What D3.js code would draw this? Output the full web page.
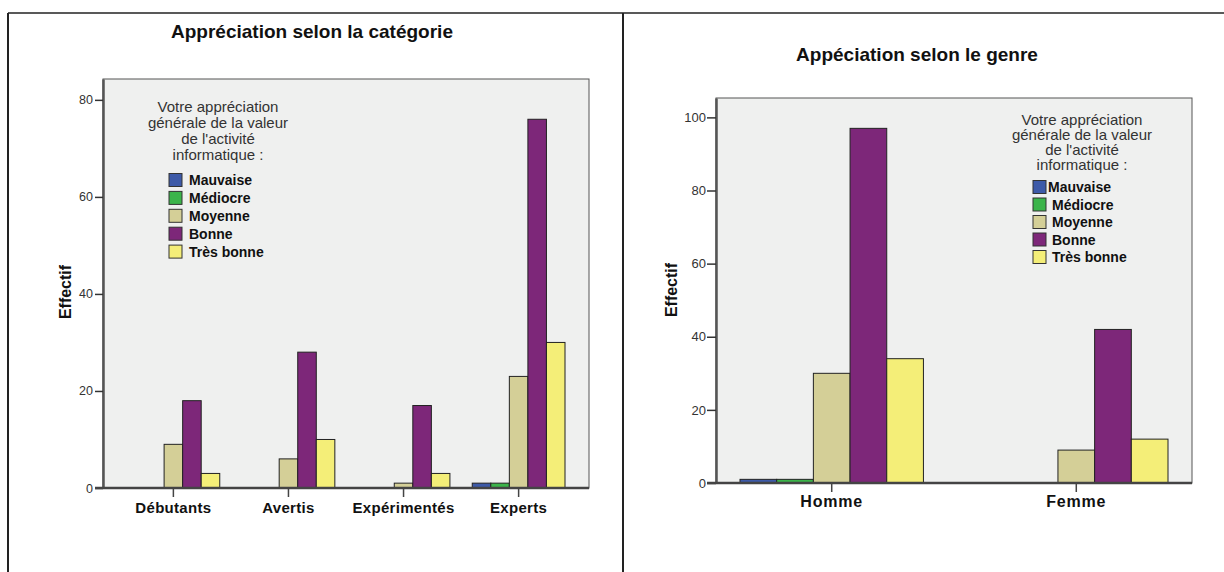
<!DOCTYPE html>
<html><head><meta charset="utf-8">
<script src="https://cdn.jsdelivr.net/npm/d3@7"></script>
<style>
body{margin:0;background:#fff}
svg{display:block}
text{font-family:"Liberation Sans",Arial,sans-serif}
</style>
</head><body>
<svg id="c" width="1224" height="572"></svg>
<script>
// ---- data ----
const seriesNames = ["Mauvaise", "Médiocre", "Moyenne", "Bonne", "Très bonne"];
const seriesColors = ["#3d5aa8", "#3bb44a", "#d4cf97", "#7d2779", "#f4ee78"];
const legendTitleLines = ["Votre appréciation", "générale de la valeur", "de l'activité", "informatique :"];

const catTitle = "Appréciation selon la catégorie";
const catCategories = ["Débutants", "Avertis", "Expérimentés", "Experts"];
const catMauvaise   = [0, 0, 0, 1];
const catMediocre   = [0, 0, 0, 1];
const catMoyenne    = [9, 6, 1, 23];
const catBonne      = [18, 28, 17, 76];
const catTresBonne  = [3, 10, 3, 30];
const catTicks      = [0, 20, 40, 60, 80];

const genreTitle = "Appéciation selon le genre";
const genreCategories = ["Homme", "Femme"];
const genreMauvaise   = [1, 0];
const genreMediocre   = [1, 0];
const genreMoyenne    = [30, 9];
const genreBonne      = [97, 42];
const genreTresBonne  = [34, 12];
const genreTicks      = [0, 20, 40, 60, 80, 100];

const yLabel = "Effectif";

const svg = d3.select("#c");

// outer frame
svg.append("line").attr("x1", 8).attr("x2", 1224).attr("y1", 13).attr("y2", 13).attr("stroke", "#222").attr("stroke-width", 1.5);
svg.append("line").attr("x1", 8).attr("x2", 8).attr("y1", 13).attr("y2", 572).attr("stroke", "#222").attr("stroke-width", 2);
svg.append("line").attr("x1", 623).attr("x2", 623).attr("y1", 13).attr("y2", 572).attr("stroke", "#222").attr("stroke-width", 2);

function drawChart(cfg) {
  const g = svg.append("g");
  const {left, right, top, bottom} = cfg;
  const y = d3.scaleLinear().domain([0, cfg.yMax]).range([bottom, top]);
  const x0 = d3.scaleBand().domain(cfg.categories).range([left + 24, right - 24])
    .paddingInner(cfg.paddingInner).paddingOuter(0);
  const x1 = d3.scaleBand().domain(seriesNames).range([0, x0.bandwidth()]);
  const color = d3.scaleOrdinal().domain(seriesNames).range(seriesColors);

  // title
  g.append("text").attr("x", cfg.titleX).attr("y", cfg.titleY)
    .attr("text-anchor", "middle").attr("font-size", 19).attr("font-weight", "bold")
    .attr("fill", "#111").text(cfg.title);

  // plot background
  g.append("rect").attr("x", left).attr("y", top).attr("width", right - left).attr("height", bottom - top)
    .attr("fill", "#eff0ef").attr("stroke", "#555").attr("stroke-width", 1);

  // bars
  const rows = [];
  cfg.categories.forEach((c, i) => {
    seriesNames.forEach((s, j) => {
      const v = cfg.values[j][i];
      if (v > 0) rows.push({c, s, v});
    });
  });
  g.append("g").selectAll("rect").data(rows).join("rect")
    .attr("x", d => x0(d.c) + x1(d.s))
    .attr("y", d => y(d.v))
    .attr("width", x1.bandwidth())
    .attr("height", d => bottom - y(d.v))
    .attr("fill", d => color(d.s))
    .attr("stroke", "#222").attr("stroke-width", 1);

  // y axis
  const ya = g.append("g").attr("transform", `translate(${left},0)`)
    .call(d3.axisLeft(y).tickValues(cfg.ticks).tickSize(cfg.yTickLen).tickPadding(cfg.yTickPad).tickSizeOuter(0));
  ya.select(".domain").attr("stroke", "#555").attr("stroke-width", 2.5);
  ya.selectAll(".tick line").attr("stroke", "#333").attr("stroke-width", 1.5);
  ya.selectAll(".tick text").attr("font-size", cfg.yFont).attr("fill", "#333")
    .attr("font-family", "'Liberation Sans', Arial, sans-serif");

  // x axis
  const xa = g.append("g").attr("transform", `translate(0,${bottom})`)
    .call(d3.axisBottom(x0).tickSize(9).tickPadding(cfg.xTickPad).tickSizeOuter(0));
  xa.select(".domain").attr("stroke", "#444").attr("stroke-width", 2.5)
    .attr("d", `M${left - (cfg.yTickLen)},0H${right}`);
  xa.selectAll(".tick line").attr("stroke", "#444").attr("stroke-width", 1.5);
  xa.selectAll(".tick text").attr("font-size", cfg.xFont).attr("font-weight", "bold")
    .attr("fill", "#111").attr("letter-spacing", cfg.xSpacing)
    .attr("font-family", "'Liberation Sans', Arial, sans-serif");

  // y label
  g.append("text").attr("transform", `translate(${cfg.yLabelX},${cfg.yLabelY}) rotate(-90)`)
    .attr("text-anchor", "middle").attr("font-size", 16).attr("font-weight", "bold")
    .attr("fill", "#111").text(yLabel);

  // legend
  const lg = g.append("g");
  legendTitleLines.forEach((t, i) => {
    lg.append("text").attr("x", cfg.legTitleX).attr("y", cfg.legTitleY + i * cfg.legTitleStep)
      .attr("text-anchor", "middle").attr("font-size", 15).attr("fill", "#333").text(t);
  });
  seriesNames.forEach((s, i) => {
    const cy = cfg.legItemY + i * cfg.legItemStep;
    lg.append("rect").attr("x", cfg.legSwX).attr("y", cy - 6.5).attr("width", 13).attr("height", 13)
      .attr("fill", color(s)).attr("stroke", "#333").attr("stroke-width", 1);
    lg.append("text").attr("x", (i === 0 && cfg.legFirstX) ? cfg.legFirstX : cfg.legTextX).attr("y", cy + 5)
      .attr("font-size", 14).attr("font-weight", "bold").attr("fill", "#111").text(s);
  });
}

drawChart({
  title: catTitle, titleX: 312, titleY: 38,
  left: 103, right: 589, top: 79, bottom: 488, yMax: 84.3,
  categories: catCategories,
  values: [catMauvaise, catMediocre, catMoyenne, catBonne, catTresBonne],
  ticks: catTicks, paddingInner: 0.194,
  yTickLen: 8, yTickPad: 2, yFont: 12.5,
  xTickPad: 5, xFont: 15, xSpacing: 0.3,
  yLabelX: 71, yLabelY: 292,
  legTitleX: 218, legTitleY: 112, legTitleStep: 16,
  legSwX: 169, legTextX: 189, legItemY: 180, legItemStep: 17.9
});

drawChart({
  title: genreTitle, titleX: 917, titleY: 61,
  left: 716, right: 1192, top: 98, bottom: 483, yMax: 105.3,
  categories: genreCategories,
  values: [genreMauvaise, genreMediocre, genreMoyenne, genreBonne, genreTresBonne],
  ticks: genreTicks, paddingInner: 0.25,
  yTickLen: 9, yTickPad: 1, yFont: 13,
  xTickPad: 4, xFont: 16, xSpacing: 0.8,
  yLabelX: 677, yLabelY: 290,
  legTitleX: 1082, legTitleY: 125, legTitleStep: 15,
  legSwX: 1033, legTextX: 1052, legFirstX: 1048, legItemY: 187, legItemStep: 17.5
});
</script>
</body></html>
